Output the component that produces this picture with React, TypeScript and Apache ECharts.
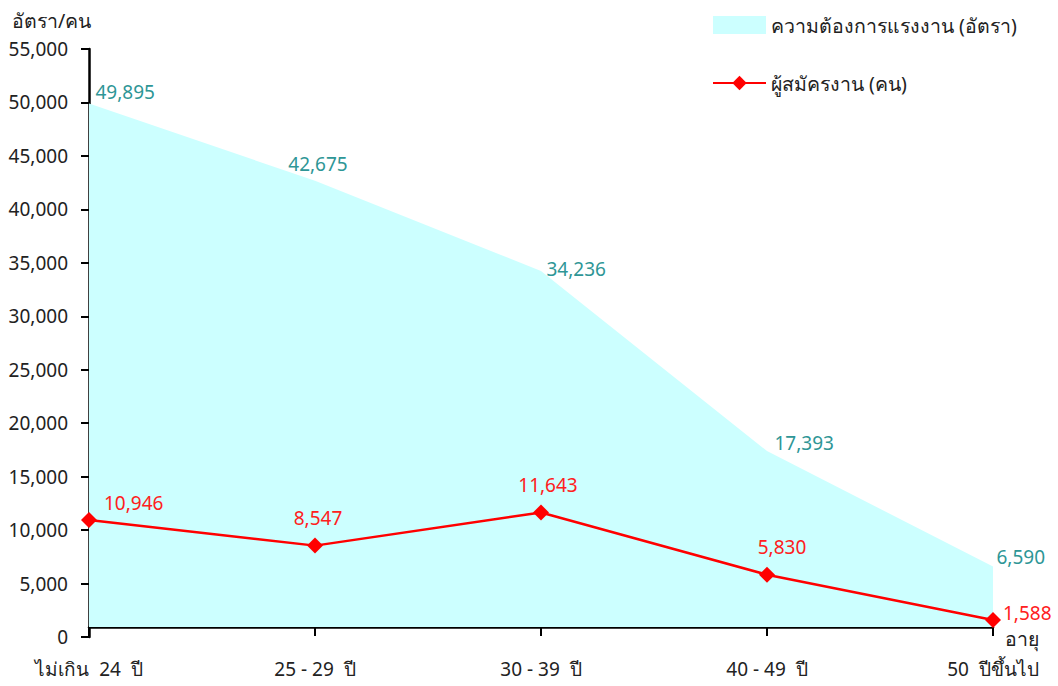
import React, { useEffect, useRef } from "react";
import * as echarts from "echarts";

const categories = ["ไม่เกิน  24  ปี", "25 - 29  ปี", "30 - 39  ปี", "40 - 49  ปี", "50  ปีขึ้นไป"];
const demandValues = [49895, 42675, 34236, 17393, 6590];
const applicantValues = [10946, 8547, 11643, 5830, 1588];
const demandName = "ความต้องการแรงงาน (อัตรา)";
const applicantName = "ผู้สมัครงาน (คน)";
const yAxisTitle = "อัตรา/คน";
const xAxisTitle = "อายุ";
const xAxisCrossValue = 935;

const FONT = "Tahoma, 'Noto Sans', 'DejaVu Sans', sans-serif";
const fmt = (v: number) => v.toLocaleString("en-US");

// label placement per point (style only)
const demandLabelPos: any[] = [
  { position: "right", offset: [1, -12] },
  { position: "top", offset: [3, -2] },
  { position: "right", offset: [0, -2] },
  { position: "right", offset: [2, -8] },
  { position: "right", offset: [-2, -10] },
];
const applicantLabelPos: any[] = [
  { position: "right", offset: [2, -17] },
  { position: "top", offset: [3, -5] },
  { position: "top", offset: [7, -5] },
  { position: "top", offset: [15, -5] },
  { position: "right", offset: [-3, -7], lineHeight: 18 },
];

export default function App() {
  const ref = useRef<HTMLDivElement>(null);
  useEffect(() => {
    if (!ref.current) return;
    const chart = echarts.init(ref.current, null, { renderer: "svg" });
    chart.setOption({
      animation: false,
      textStyle: { fontFamily: FONT },
      grid: { left: 89, right: 65, top: 49, bottom: 49, containLabel: false },
      legend: {
        orient: "vertical",
        left: 712,
        top: 15,
        padding: 0,
        itemWidth: 53,
        itemHeight: 18,
        itemGap: 38,
        textStyle: { fontSize: 19.5, color: "#222", fontFamily: FONT },
        data: [
          { name: demandName, icon: "rect", itemStyle: { color: "#ccffff", opacity: 1 } },
          { name: applicantName },
        ],
      },
      graphic: [
        { type: "text", left: 12, top: 10, style: { text: yAxisTitle, fontSize: 19.5, fill: "#222", fontFamily: FONT } },
        { type: "text", left: 1005, top: 628, style: { text: xAxisTitle, fontSize: 19.5, lineHeight: 20, fill: "#222", fontFamily: FONT } },
      ],
      xAxis: {
        type: "category",
        data: categories,
        boundaryGap: false,
        offset: -10,
        axisLine: { onZero: false, lineStyle: { color: "#000", width: 2.5 } },
        axisTick: { show: true, length: 9, lineStyle: { color: "#000", width: 2 } },
        axisLabel: { fontSize: 19, color: "#222", margin: 32, fontFamily: FONT },
        splitLine: { show: false },
      },
      yAxis: {
        type: "value",
        min: 0,
        max: 55000,
        interval: 5000,
        axisLine: { show: true, lineStyle: { color: "#000", width: 2.5 } },
        axisTick: { show: true, length: 8, lineStyle: { color: "#000", width: 2 } },
        axisLabel: { fontSize: 19, color: "#222", margin: 21, formatter: (v: number) => fmt(v), fontFamily: FONT },
        splitLine: { show: false },
      },
      series: [
        {
          name: demandName,
          type: "line",
          data: demandValues.map((v, i) => ({ value: v, label: demandLabelPos[i] })),
          symbol: "circle",
          symbolSize: 1,
          itemStyle: { color: "rgba(204,255,255,0)" },
          lineStyle: { width: 0, color: "#ccffff" },
          areaStyle: { color: "#ccffff", opacity: 1, origin: xAxisCrossValue },
          label: {
            show: true,
            fontSize: 19,
            color: "#2e9696",
            fontFamily: FONT,
            formatter: (p: any) => fmt(p.value),
          },
          z: 1,
        },
        {
          name: applicantName,
          type: "line",
          data: applicantValues.map((v, i) => ({ value: v, label: applicantLabelPos[i] })),
          symbol: "diamond",
          symbolSize: 16,
          itemStyle: { color: "#ff0000" },
          lineStyle: { width: 2.5, color: "#ff0000" },
          label: {
            show: true,
            fontSize: 19,
            color: "#ff2020",
            fontFamily: FONT,
            formatter: (p: any) => fmt(p.value),
          },
          z: 3,
        },
      ],
    });
    return () => chart.dispose();
  }, []);
  return <div ref={ref} style={{ position: "absolute", left: 0, top: 0, width: 1058, height: 686 }} />;
}
